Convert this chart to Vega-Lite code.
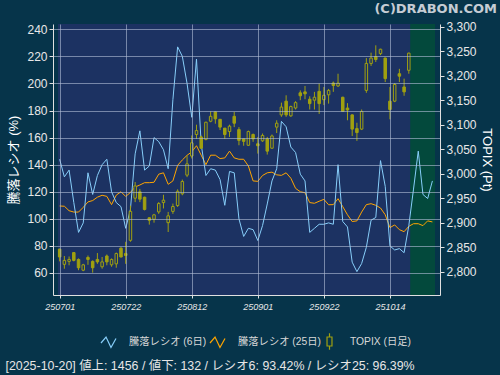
{
  "$schema": "https://vega.github.io/schema/vega-lite/v6.json",
  "width": 387,
  "height": 271,
  "autosize": {"type": "none"},
  "padding": {"left": 53, "top": 24, "right": 60, "bottom": 80},
  "background": "#06344a",
  "config": {
    "font": "'Liberation Sans', 'Noto Sans CJK JP', sans-serif",
    "view": {"fill": "#1c3262", "stroke": null},
    "axis": {"labelOverlap": false},
    "axisX": {"labelOverlap": false, "labelFlush": false, "labelSeparation": 0}
  },
  "title": {
    "text": "(C)DRABON.COM",
    "anchor": "end",
    "frame": "group",
    "dx": 57,
    "offset": 5,
    "fontSize": 13,
    "fontWeight": "bold",
    "color": "#c5ccd4",
    "font": "DejaVu Sans"
  },
  "datasets": {
    "r6": [
      {"i":0,"v":144},{"i":1,"v":131},{"i":2,"v":136},{"i":3,"v":112},{"i":4,"v":90},{"i":5,"v":97},{"i":6,"v":134},{"i":7,"v":118},{"i":8,"v":132},{"i":9,"v":140},
      {"i":10,"v":144},{"i":11,"v":120},{"i":12,"v":112},{"i":13,"v":109},{"i":14,"v":93},{"i":15,"v":107},{"i":16,"v":148},{"i":17,"v":165},{"i":18,"v":136},{"i":19,"v":139},
      {"i":20,"v":160},{"i":21,"v":157},{"i":22,"v":151},{"i":23,"v":137},{"i":24,"v":188},{"i":25,"v":227},{"i":26,"v":220},{"i":27,"v":200},{"i":28,"v":175},{"i":29,"v":218},
      {"i":30,"v":155},{"i":31,"v":132},{"i":32,"v":137},{"i":33,"v":136},{"i":34,"v":129},{"i":35,"v":110},{"i":36,"v":135},{"i":37,"v":134},{"i":38,"v":100},{"i":39,"v":87},
      {"i":40,"v":93},{"i":41,"v":92},{"i":42,"v":84},{"i":43,"v":95},{"i":44,"v":111},{"i":45,"v":128},{"i":46,"v":137},{"i":47,"v":172},{"i":48,"v":168},{"i":49,"v":153},
      {"i":50,"v":149},{"i":51,"v":133},{"i":52,"v":128},{"i":53,"v":90},{"i":54,"v":93},{"i":55,"v":96},{"i":56,"v":96},{"i":57,"v":97},{"i":58,"v":96},{"i":59,"v":140},
      {"i":60,"v":98},{"i":61,"v":94},{"i":62,"v":68},{"i":63,"v":61},{"i":64,"v":67},{"i":65,"v":79},{"i":66,"v":99},{"i":67,"v":101},{"i":68,"v":143},{"i":69,"v":124},
      {"i":70,"v":80},{"i":71,"v":77},{"i":72,"v":78},{"i":73,"v":75},{"i":74,"v":95},{"i":75,"v":122},{"i":76,"v":150},{"i":77,"v":118},{"i":78,"v":115},{"i":79,"v":128}
    ],
    "r25": [
      {"i":0,"v":109.5},{"i":1,"v":109.3},{"i":2,"v":106},{"i":3,"v":105},{"i":4,"v":105},{"i":5,"v":108.5},{"i":6,"v":112.5},{"i":7,"v":113.5},{"i":8,"v":116},{"i":9,"v":117.4},
      {"i":10,"v":116.6},{"i":11,"v":110.5},{"i":12,"v":117.5},{"i":13,"v":120},{"i":14,"v":116.5},{"i":15,"v":119.5},{"i":16,"v":123.5},{"i":17,"v":125},{"i":18,"v":126.7},{"i":19,"v":126.7},
      {"i":20,"v":127},{"i":21,"v":133},{"i":22,"v":134},{"i":23,"v":125.5},{"i":24,"v":128},{"i":25,"v":139.5},{"i":26,"v":143.5},{"i":27,"v":146.9},{"i":28,"v":149.5},{"i":29,"v":154},
      {"i":30,"v":147},{"i":31,"v":140},{"i":32,"v":147},{"i":33,"v":147},{"i":34,"v":144.5},{"i":35,"v":145},{"i":36,"v":150},{"i":37,"v":145},{"i":38,"v":144},{"i":39,"v":144},
      {"i":40,"v":139},{"i":41,"v":128},{"i":42,"v":127.7},{"i":43,"v":132},{"i":44,"v":134},{"i":45,"v":134.5},{"i":46,"v":132.5},{"i":47,"v":132.1},{"i":48,"v":134},{"i":49,"v":130},
      {"i":50,"v":122.5},{"i":51,"v":120},{"i":52,"v":119.3},{"i":53,"v":112},{"i":54,"v":111.5},{"i":55,"v":113},{"i":56,"v":114.4},{"i":57,"v":110.4},{"i":58,"v":110.5},{"i":59,"v":114.9},
      {"i":60,"v":109},{"i":61,"v":103},{"i":62,"v":98},{"i":63,"v":98.5},{"i":64,"v":105},{"i":65,"v":110.5},{"i":66,"v":111.2},{"i":67,"v":110},{"i":68,"v":108},{"i":69,"v":103},
      {"i":70,"v":93.5},{"i":71,"v":95.5},{"i":72,"v":92},{"i":73,"v":90.5},{"i":74,"v":94.5},{"i":75,"v":96.4},{"i":76,"v":96.4},{"i":77,"v":95},{"i":78,"v":98.5},{"i":79,"v":97.7}
    ],
    "topix": [
      {"i":0,"o":2846,"h":2847,"l":2821,"c":2830},{"i":1,"o":2815,"h":2832,"l":2806,"c":2823},{"i":2,"o":2821,"h":2831,"l":2813,"c":2825},{"i":3,"o":2839,"h":2840,"l":2821,"c":2823},
      {"i":4,"o":2825,"h":2827,"l":2803,"c":2808},{"i":5,"o":2803,"h":2816,"l":2801,"c":2814},{"i":6,"o":2829,"h":2833,"l":2814,"c":2825},{"i":7,"o":2821,"h":2823,"l":2798,"c":2808},
      {"i":8,"o":2825,"h":2838,"l":2816,"c":2820},{"i":9,"o":2810,"h":2830,"l":2806,"c":2820},{"i":10,"o":2832,"h":2835,"l":2813,"c":2820},{"i":11,"o":2814,"h":2827,"l":2810,"c":2825},
      {"i":12,"o":2816,"h":2839,"l":2808,"c":2837},{"i":13,"o":2848,"h":2850,"l":2829,"c":2830},{"i":14,"o":2837,"h":2861,"l":2816,"c":2833},{"i":15,"o":2864,"h":2935,"l":2861,"c":2923},
      {"i":16,"o":2950,"h":2983,"l":2942,"c":2975},{"i":17,"o":2963,"h":2969,"l":2942,"c":2948},{"i":18,"o":2952,"h":2953,"l":2925,"c":2927},{"i":19,"o":2910,"h":2911,"l":2896,"c":2905},
      {"i":20,"o":2907,"h":2918,"l":2900,"c":2916},{"i":21,"o":2922,"h":2942,"l":2918,"c":2939},{"i":22,"o":2941,"h":2957,"l":2929,"c":2946},{"i":23,"o":2900,"h":2922,"l":2881,"c":2914},
      {"i":24,"o":2923,"h":2939,"l":2918,"c":2933},{"i":25,"o":2935,"h":2968,"l":2932,"c":2964},{"i":26,"o":2959,"h":2988,"l":2956,"c":2984},{"i":27,"o":2997,"h":3037,"l":2993,"c":3020},
      {"i":28,"o":3036,"h":3078,"l":3031,"c":3063},{"i":29,"o":3080,"h":3100,"l":3071,"c":3088},{"i":30,"o":3075,"h":3078,"l":3051,"c":3052},{"i":31,"o":3070,"h":3106,"l":3068,"c":3105},
      {"i":32,"o":3107,"h":3127,"l":3105,"c":3117},{"i":33,"o":3126,"h":3127,"l":3102,"c":3112},{"i":34,"o":3111,"h":3111,"l":3089,"c":3095},{"i":35,"o":3093,"h":3093,"l":3071,"c":3080},
      {"i":36,"o":3086,"h":3100,"l":3075,"c":3097},{"i":37,"o":3117,"h":3126,"l":3095,"c":3103},{"i":38,"o":3090,"h":3095,"l":3058,"c":3068},{"i":39,"o":3071,"h":3071,"l":3057,"c":3066},
      {"i":40,"o":3058,"h":3088,"l":3057,"c":3086},{"i":41,"o":3080,"h":3082,"l":3065,"c":3071},{"i":42,"o":3061,"h":3075,"l":3041,"c":3057},{"i":43,"o":3067,"h":3082,"l":3065,"c":3078},
      {"i":44,"o":3071,"h":3075,"l":3039,"c":3046},{"i":45,"o":3052,"h":3080,"l":3051,"c":3077},{"i":46,"o":3095,"h":3109,"l":3083,"c":3103},{"i":47,"o":3120,"h":3145,"l":3116,"c":3136},
      {"i":48,"o":3148,"h":3160,"l":3116,"c":3120},{"i":49,"o":3118,"h":3139,"l":3116,"c":3137},{"i":50,"o":3134,"h":3148,"l":3131,"c":3145},{"i":51,"o":3165,"h":3170,"l":3150,"c":3159},
      {"i":52,"o":3167,"h":3179,"l":3152,"c":3163},{"i":53,"o":3152,"h":3158,"l":3131,"c":3143},{"i":54,"o":3150,"h":3167,"l":3131,"c":3156},{"i":55,"o":3168,"h":3184,"l":3122,"c":3143},
      {"i":56,"o":3151,"h":3177,"l":3140,"c":3160},{"i":57,"o":3161,"h":3173,"l":3143,"c":3170},{"i":58,"o":3185,"h":3188,"l":3167,"c":3180},{"i":59,"o":3179,"h":3204,"l":3177,"c":3185},
      {"i":60,"o":3156,"h":3157,"l":3126,"c":3127},{"i":61,"o":3134,"h":3144,"l":3109,"c":3130},{"i":62,"o":3120,"h":3121,"l":3077,"c":3091},{"i":63,"o":3092,"h":3104,"l":3067,"c":3084},
      {"i":64,"o":3091,"h":3131,"l":3089,"c":3127},{"i":65,"o":3170,"h":3236,"l":3165,"c":3225},{"i":66,"o":3225,"h":3247,"l":3220,"c":3236},{"i":67,"o":3239,"h":3262,"l":3228,"c":3233},
      {"i":68,"o":3245,"h":3255,"l":3242,"c":3254},{"i":69,"o":3236,"h":3237,"l":3187,"c":3194},{"i":70,"o":3148,"h":3177,"l":3111,"c":3131},{"i":71,"o":3148,"h":3185,"l":3146,"c":3182},
      {"i":72,"o":3204,"h":3214,"l":3187,"c":3199},{"i":73,"o":3177,"h":3194,"l":3159,"c":3167},{"i":74,"o":3211,"h":3247,"l":3204,"c":3246}
    ],
    "leg": [
      {"s": "騰落レシオ (6日)"},
      {"s": "騰落レシオ (25日)"},
      {"s": "TOPIX (日足)"}
    ]
  },
  "layer": [
    {
      "data": {"values": [{}]},
      "mark": {"type": "rect", "color": "#1c3262"},
      "encoding": {
        "x": {"datum": -0.35, "type": "quantitative", "scale": {"domain": [-0.35, 79.55], "nice": false, "zero": false}},
        "x2": {"datum": 79.55}
      }
    },
    {
      "data": {"values": [{}]},
      "mark": {"type": "rect", "color": "#03493c"},
      "encoding": {
        "x": {"datum": 74.3, "type": "quantitative", "scale": {"domain": [-0.35, 79.55], "nice": false, "zero": false}},
        "x2": {"datum": 79.55}
      }
    },
    {
      "data": {"name": "r25"},
      "mark": {"type": "line", "color": "#ffa500", "strokeWidth": 1},
      "encoding": {
        "x": {"field": "i", "type": "quantitative", "scale": {"domain": [-0.35, 79.55], "nice": false, "zero": false},
          "axis": {
            "values": [0,7,14,21,28,35,42,49,56,63,70,77],
            "labelExpr": "['250701','250710','250722','250731','250812','250821','250901','250910','250922','251002','251014','251023'][round(datum.value/7)]",
            "labelOverlap": false,
            "labelFlush": false,
            "labelFontStyle": "italic",
            "labelFontSize": 9,
            "labelAngle": 0,
            "labelAlign": "center",
            "labelBaseline": "top",
            "labelPadding": 4,
            "labelColor": "#e8e8e8",
            "tickSize": 3,
            "tickColor": "#e0e0e0",
            "domainColor": "#e0e0e0",
            "grid": true,
            "gridColor": "#b4c0d8",
            "gridOpacity": 0.6,
            "zindex": 1,
            "title": "[2025-10-20]  値上: 1456 / 値下: 132 / レシオ6: 93.42% / レシオ25: 96.39%",
            "titleAnchor": "start",
            "titleAlign": "left",
            "titleX": -48,
            "titleY": 70,
            "titleBaseline": "middle",
            "titleFontSize": 12.4,
            "titleFontWeight": "normal",
            "titleColor": "#e6e6e6"
          }
        },
        "y": {"field": "v", "type": "quantitative", "scale": {"domain": [43.75, 243.9], "nice": false, "zero": false},
          "axis": {
            "orient": "left",
            "values": [60,80,100,120,140,160,180,200,220,240],
            "grid": true,
            "gridColor": "#b4c0d8",
            "gridOpacity": 0.6,
            "zindex": 1,
            "tickSize": 4,
            "tickColor": "#e0e0e0",
            "domainColor": "#e0e0e0",
            "labelColor": "#e8e8e8",
            "labelFontSize": 12,
            "labelPadding": 2,
            "title": "騰落レシオ (%)",
            "titleColor": "#ffffff",
            "titleFontSize": 13,
            "titleFontWeight": "normal",
            "titlePadding": 6
          }
        }
      }
    },
    {
      "data": {"name": "r6"},
      "mark": {"type": "line", "color": "#87cefa", "strokeWidth": 1},
      "encoding": {
        "x": {"field": "i", "type": "quantitative", "scale": {"domain": [-0.35, 79.55], "nice": false, "zero": false}},
        "y": {"field": "v", "type": "quantitative", "scale": {"domain": [43.75, 243.9], "nice": false, "zero": false}, "axis": null}
      }
    },
    {
      "data": {"name": "topix"},
      "mark": {"type": "rule", "color": "#a0a010", "strokeWidth": 1},
      "encoding": {
        "x": {"field": "i", "type": "quantitative", "scale": {"domain": [-0.35, 79.55], "nice": false, "zero": false}},
        "y": {"field": "l", "type": "quantitative", "scale": {"domain": [2752.4, 3305.5], "nice": false, "zero": false},
          "axis": {
            "orient": "right",
            "values": [2800,2850,2900,2950,3000,3050,3100,3150,3200,3250,3300],
            "format": ",.0f",
            "grid": false,
            "zindex": 1,
            "tickSize": 4,
            "tickColor": "#e0e0e0",
            "domainColor": "#e0e0e0",
            "labelColor": "#e8e8e8",
            "labelFontSize": 12,
            "labelPadding": 2,
            "title": "TOPIX (Pt)",
            "titleColor": "#ffffff",
            "titleFontSize": 13,
            "titleFontWeight": "normal",
            "titlePadding": 3
          }
        },
        "y2": {"field": "h"}
      }
    },
    {
      "data": {"name": "topix"},
      "mark": {"type": "bar", "size": 2.5, "stroke": "#a0a010", "strokeWidth": 1},
      "encoding": {
        "x": {"field": "i", "type": "quantitative", "scale": {"domain": [-0.35, 79.55], "nice": false, "zero": false}},
        "y": {"field": "o", "type": "quantitative", "scale": {"domain": [2752.4, 3305.5], "nice": false, "zero": false}, "axis": null},
        "y2": {"field": "c"},
        "fill": {"condition": {"test": "datum.c > datum.o", "value": "#1c3262"}, "value": "#a0a010"}
      }
    },
    {
      "data": {"name": "leg"},
      "mark": {"type": "point", "opacity": 0, "filled": false},
      "encoding": {
        "color": {
          "field": "s", "type": "nominal",
          "scale": {"domain": ["騰落レシオ (6日)", "騰落レシオ (25日)", "TOPIX (日足)"], "range": ["#87cefa", "#ffa500", "#a0a010"]},
          "legend": {
            "title": null, "orient": "none", "legendX": 47, "legendY": 309, "direction": "horizontal",
            "gridAlign": "none",
            "symbolSize": 225, "symbolStrokeWidth": 1.2, "labelFontSize": 10.3, "labelColor": "#d8d8d8",
            "labelOffset": 12, "columnPadding": 0,
            "encode": {"symbols": {"update": {"opacity": {"value": 1}, "fill": {"signal": "datum.value === 'TOPIX (日足)' ? '#a0a010' : 'transparent'"}}}}
          }
        },
        "shape": {
          "field": "s", "type": "nominal",
          "scale": {"domain": ["騰落レシオ (6日)", "騰落レシオ (25日)", "TOPIX (日足)"], "range": ["M-1,0.2L-0.33,-0.6L0.33,0.8L1,-0.4", "M-1,0.2L-0.33,-0.6L0.33,0.8L1,-0.4", "M-0.33,-0.6H0.33V0.6H-0.33Z M0,-1.1V-0.6 M0,0.6V1.1"]},
          "legend": {
            "title": null, "orient": "none", "legendX": 47, "legendY": 309, "direction": "horizontal",
            "gridAlign": "none",
            "symbolSize": 225, "symbolStrokeWidth": 1.2, "labelFontSize": 10.3, "labelColor": "#d8d8d8",
            "labelOffset": 12, "columnPadding": 0,
            "encode": {"symbols": {"update": {"opacity": {"value": 1}, "fill": {"signal": "datum.value === 'TOPIX (日足)' ? '#a0a010' : 'transparent'"}}}}
          }
        }
      }
    }
  ],
  "resolve": {"scale": {"y": "independent"}, "axis": {"y": "independent"}}
}
